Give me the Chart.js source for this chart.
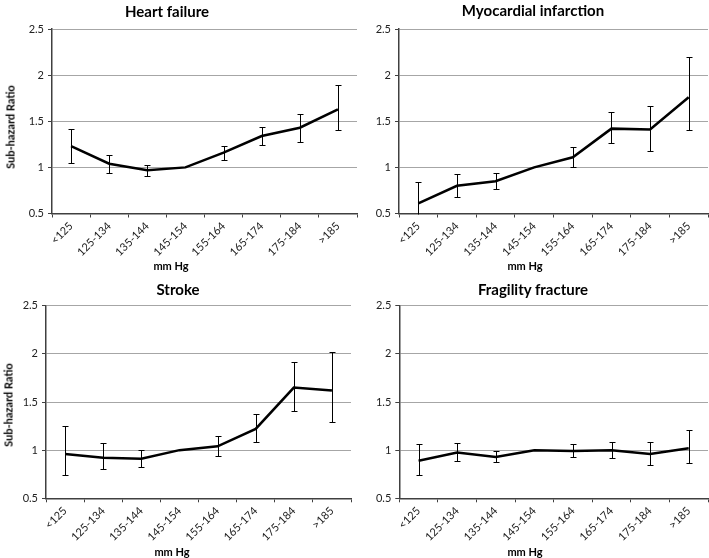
<!DOCTYPE html>
<html><head><meta charset="utf-8">
<script src="https://cdn.jsdelivr.net/npm/chart.js@4"></script>
<style>
html,body{margin:0;padding:0;background:#fff;}
body{width:709px;height:558px;overflow:hidden;position:relative;font-family:Lato,"Open Sans",sans-serif;color:#000;}
.pane{position:absolute;}
.pane canvas{display:block;}
.txt{position:absolute;white-space:nowrap;font-weight:bold;transform:translate(-50%,-50%);line-height:1;}
.ttl{font-size:15px;}
.ax{font-size:11px;}
.yt{transform:translate(-50%,-50%) rotate(-90deg);}
</style>
</head><body>
<script>
// ---- data ----
const categories = ['<125','125-134','135-144','145-154','155-164','165-174','175-184','>185'];
const yTicks = [0.5, 1, 1.5, 2, 2.5];
const panelTitles = ['Heart failure','Myocardial infarction','Stroke','Fragility fracture'];
const yAxisTitle = 'Sub-hazard Ratio';
const xAxisTitle = 'mm Hg';

const hfHR = [1.23, 1.04, 0.97, 1.00, 1.16, 1.34, 1.43, 1.63];
const hfLo = [1.05, 0.94, 0.91, null, 1.08, 1.24, 1.28, 1.41];
const hfHi = [1.42, 1.13, 1.03, null, 1.23, 1.44, 1.58, 1.89];

const miHR = [0.61, 0.80, 0.85, 1.00, 1.11, 1.42, 1.41, 1.76];
const miLo = [0.45, 0.68, 0.77, null, 1.00, 1.26, 1.18, 1.41];
const miHi = [0.84, 0.93, 0.94, null, 1.22, 1.60, 1.67, 2.20];

const stHR = [0.96, 0.92, 0.91, 1.00, 1.04, 1.22, 1.65, 1.62];
const stLo = [0.74, 0.80, 0.82, null, 0.94, 1.08, 1.41, 1.29];
const stHi = [1.25, 1.07, 1.00, null, 1.15, 1.38, 1.92, 2.02];

const ffHR = [0.89, 0.975, 0.93, 1.00, 0.99, 1.00, 0.96, 1.02];
const ffLo = [0.74, 0.89, 0.875, null, 0.93, 0.92, 0.85, 0.865];
const ffHi = [1.06, 1.07, 0.99, null, 1.06, 1.08, 1.08, 1.21];

// ---- layout ----
const panels = [
  {title: panelTitles[0], hr: hfHR, lo: hfLo, hi: hfHi, left: 0,   top: 0,   w: 360, h: 278, padTop: 29,   padRight: 3, yW: 52,   xH: 64.5, yTitle: true,  tx: 167, ty: 11,  yx: 10, yy: 127, mx: 171, my: 265},
  {title: panelTitles[1], hr: miHR, lo: miLo, hi: miHi, left: 354, top: 0,   w: 355, h: 278, padTop: 29,   padRight: 1, yW: 45,   xH: 64.5, yTitle: false, tx: 533, ty: 10,  mx: 525, my: 265},
  {title: panelTitles[2], hr: stHR, lo: stLo, hi: stHi, left: 0,   top: 278, w: 360, h: 280, padTop: 27.7, padRight: 9, yW: 46,   xH: 59.7, yTitle: true,  tx: 178, ty: 289, yx: 8, yy: 405, mx: 172, my: 551},
  {title: panelTitles[3], hr: ffHR, lo: ffLo, hi: ffHi, left: 354, top: 278, w: 355, h: 280, padTop: 27.7, padRight: 1, yW: 45.3, xH: 59.7, yTitle: false, tx: 533, ty: 289, mx: 525, my: 551}
];

const errorBars = {
  id: 'errorBars',
  afterDatasetsDraw(chart, args, opts) {
    const {ctx, chartArea, scales: {x, y}} = chart;
    ctx.save();
    ctx.beginPath();
    ctx.rect(chartArea.left, chartArea.top, chartArea.width, chartArea.height + 1);
    ctx.clip();
    ctx.strokeStyle = '#000';
    ctx.lineWidth = 1;
    opts.lo.forEach((lo, i) => {
      const hi = opts.hi[i];
      if (lo == null || hi == null) return;
      const px = Math.round(x.getPixelForValue(i)) + 0.5;
      const yl = Math.round(y.getPixelForValue(lo)) + 0.5;
      const yh = Math.round(y.getPixelForValue(hi)) + 0.5;
      ctx.beginPath();
      ctx.moveTo(px, yl); ctx.lineTo(px, yh);
      ctx.moveTo(px - 3, yl); ctx.lineTo(px + 3, yl);
      ctx.moveTo(px - 3, yh); ctx.lineTo(px + 3, yh);
      ctx.stroke();
    });
    ctx.restore();
  }
};

function addText(cls, text, x, y) {
  const d = document.createElement('div');
  d.className = 'txt ' + cls;
  d.textContent = text;
  d.style.left = x + 'px';
  d.style.top = y + 'px';
  document.body.appendChild(d);
}

const tickFont = {family: 'Lato, "Open Sans", sans-serif', size: 11};
const axisColor = '#404040';

panels.forEach(p => {
  const div = document.createElement('div');
  div.className = 'pane';
  div.style.left = p.left + 'px';
  div.style.top = p.top + 'px';
  const cv = document.createElement('canvas');
  cv.width = p.w; cv.height = p.h;
  cv.style.width = p.w + 'px'; cv.style.height = p.h + 'px';
  div.appendChild(cv);
  document.body.appendChild(div);

  new Chart(cv.getContext('2d'), {
    type: 'line',
    data: {
      labels: categories,
      datasets: [{
        data: p.hr,
        borderColor: '#000',
        borderWidth: 2.5,
        pointRadius: 0,
        tension: 0,
        fill: false,
        clip: false
      }]
    },
    options: {
      responsive: false,
      animation: false,
      layout: {padding: {top: p.padTop, right: p.padRight, left: 0, bottom: 0}},
      plugins: {
        legend: {display: false},
        tooltip: {enabled: false},
        title: {display: false},
        errorBars: {lo: p.lo, hi: p.hi}
      },
      scales: {
        x: {
          type: 'category',
          offset: true,
          afterFit(s) { s.height = p.xH; },
          grid: {offset: true, drawOnChartArea: false, drawTicks: true, tickLength: 4, tickColor: axisColor, tickWidth: 1},
          border: {display: true, color: axisColor, width: 1.5},
          ticks: {maxRotation: 45, minRotation: 45, autoSkip: false, padding: 2, color: '#222', font: tickFont}
        },
        y: {
          min: yTicks[0],
          max: yTicks[yTicks.length - 1],
          afterFit(s) { s.width = p.yW; },
          afterBuildTicks(s) { s.ticks = yTicks.map(v => ({value: v})); },
          grid: {color: '#a6a6a6', lineWidth: 1, drawTicks: true, tickLength: 4, tickColor: axisColor},
          border: {display: true, color: axisColor, width: 1.5},
          ticks: {padding: 4, color: '#222', font: tickFont, callback: v => String(v)}
        }
      }
    },
    plugins: [errorBars]
  });

  addText('ttl', p.title, p.tx, p.ty);
  addText('ax', xAxisTitle, p.mx, p.my);
  if (p.yTitle) addText('ax yt', yAxisTitle, p.yx, p.yy);
});
</script>
</body></html>
